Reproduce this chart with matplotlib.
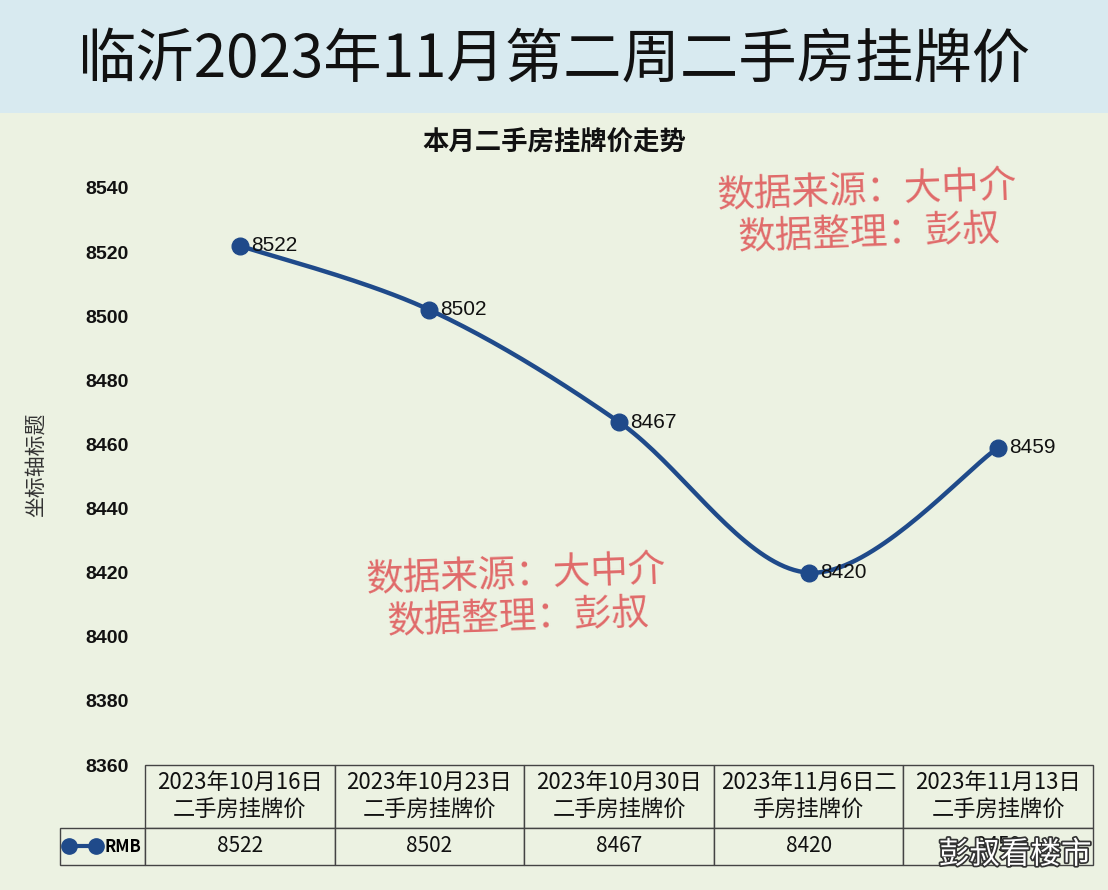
import numpy as np
import matplotlib
matplotlib.use("Agg")
import matplotlib.pyplot as plt
import matplotlib.patheffects as pe
from matplotlib.lines import Line2D

plt.rcParams['font.family'] = ['Noto Sans CJK SC', 'DejaVu Sans']

# data
title = "临沂2023年11月第二周二手房挂牌价"
chart_title = "本月二手房挂牌价走势"
dates = ["2023年10月16日\n二手房挂牌价", "2023年10月23日\n二手房挂牌价",
         "2023年10月30日\n二手房挂牌价", "2023年11月6日二\n手房挂牌价",
         "2023年11月13日\n二手房挂牌价"]
prices = [8522, 8502, 8467, 8420, 8459]
series_name = "RMB"
y_ticks = [8360, 8380, 8400, 8420, 8440, 8460, 8480, 8500, 8520, 8540]
note = "数据来源：大中介\n数据整理：彭叔"

line_color = "#1f4a8a"
bg = "#ecf2e2"
num_font = ['Liberation Sans', 'DejaVu Sans']

fig = plt.figure(figsize=(11.08, 8.9), dpi=100, facecolor=bg)

# title band
band = fig.add_axes([0, 1 - 113 / 890, 1, 113 / 890])
band.set_facecolor("#d8eaf0")
band.set_xticks([]); band.set_yticks([])
for s in band.spines.values():
    s.set_visible(False)
band.text(0.5, 0.46, title, ha="center", va="center", fontsize=42, color="#111111")

ax = fig.add_axes([145 / 1108, 1 - 765 / 890, 948 / 1108, 577 / 890])
ax.set_facecolor(bg)
for s in ax.spines.values():
    s.set_visible(False)

# smooth line like Excel (bezier through the points)
x = np.arange(len(prices), dtype=float)
y = np.array(prices, dtype=float)
xs, ys = [], []
t = np.linspace(0, 1, 40)
for i in range(len(x) - 1):
    p0 = np.array([x[i], y[i]])
    p3 = np.array([x[i + 1], y[i + 1]])
    prev = np.array([x[i - 1], y[i - 1]]) if i > 0 else p0
    nxt = np.array([x[i + 2], y[i + 2]]) if i + 2 < len(x) else p3
    p1 = p0 + (p3 - prev) / 6
    p2 = p3 - (nxt - p0) / 6
    b = ((1 - t) ** 3)[:, None] * p0 + (3 * (1 - t) ** 2 * t)[:, None] * p1 \
        + (3 * (1 - t) * t ** 2)[:, None] * p2 + (t ** 3)[:, None] * p3
    xs.extend(b[:, 0]); ys.extend(b[:, 1])
ax.plot(xs, ys, color=line_color, lw=3.2, solid_capstyle="round")
ax.plot(x, y, "o", color=line_color, ms=12)

for xi, yi in zip(x, y):
    ax.annotate(str(int(yi)), (xi, yi), xytext=(8, 0), textcoords="offset points",
                ha="left", va="center", fontsize=15, color="#111111", family=num_font)

ax.set_xlim(-0.5, len(prices) - 0.5)
ax.set_ylim(8360, 8540)
ax.set_yticks(y_ticks)
ax.set_xticks([])
ax.tick_params(axis="y", length=0, pad=12, labelsize=14, labelcolor="#111111")
for lb in ax.get_yticklabels():
    lb.set_fontweight("bold")
    lb.set_family(num_font)
ax.set_ylabel("坐标轴标题", fontsize=15, color="#333333")
ax.yaxis.set_label_coords(-98 / 948, 0.52)

fig.text(554 / 1108, 1 - 143 / 890, chart_title, ha="center", va="center",
         fontsize=19, fontweight="bold", color="#111111")

# data table, sizes in axes units so the bbox does not rescale
row_w = 85 / 948
head_h = 63 / 577
data_h = 37 / 577
tab = ax.table(cellText=[[str(p) for p in prices]], colLabels=dates,
               cellLoc="center", bbox=[0, -(head_h + data_h), 1, head_h + data_h])
tab.add_cell(1, -1, width=row_w, height=data_h, text="")
tab.auto_set_font_size(False)
for (r, c), cell in tab.get_celld().items():
    cell.set_facecolor(bg)
    cell.set_edgecolor("#444444")
    cell.set_linewidth(1)
    cell.get_text().set_fontsize(16 if r == 0 else 15)
    cell.get_text().set_color("#111111")
    if r == 0:
        cell.set_height(head_h)
        cell.get_text().set_linespacing(1.3)
    else:
        cell.set_height(data_h)
    cell.set_width(row_w if c == -1 else 1 / len(prices))

# legend key inside row label cell
key = Line2D([0], [0], color=line_color, lw=3, marker="o", ms=11)
leg = ax.legend([key], [series_name], loc="center",
                bbox_to_anchor=(-row_w / 2, -(head_h + data_h / 2)),
                frameon=False, numpoints=2, handlelength=2.2, handletextpad=0.2,
                prop={"size": 12, "weight": "bold"})
leg.set_zorder(30)

# red notes
fig.text(868 / 1108, 1 - 213 / 890, note, ha="center", va="center", fontsize=27,
         color="#e06a6a", rotation=2, linespacing=1.15, multialignment="center")
fig.text(517 / 1108, 1 - 597 / 890, note, ha="center", va="center", fontsize=27,
         color="#e06a6a", rotation=2, linespacing=1.15, multialignment="center")

# watermark
fig.text(1015 / 1108, 1 - 855 / 890, "彭叔看楼市", ha="center", va="center", fontsize=22,
         color="white", path_effects=[pe.withStroke(linewidth=2.5, foreground="#333333")])

fig.savefig("out.png", dpi=100, facecolor=bg)
